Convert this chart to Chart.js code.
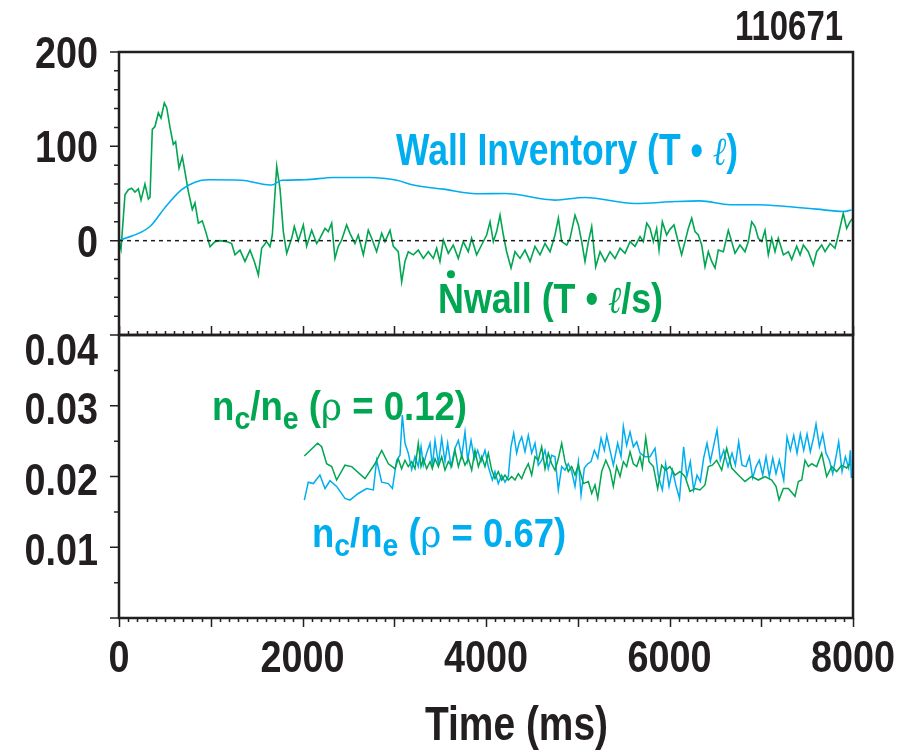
<!DOCTYPE html>
<html>
<head>
<meta charset="utf-8">
<script src="https://cdn.jsdelivr.net/npm/chart.js@4.4.1/dist/chart.umd.min.js"></script>
<style>
  html, body { margin: 0; padding: 0; background: #fff; }
</style>
</head>
<body>
<canvas id="myChart" width="919" height="750"></canvas>
<script>
// shot number shown top right
const shotLabel = "110671";

// tick labels
const xTicks = [0, 2000, 4000, 6000, 8000];
const xTickLabels = ["0", "2000", "4000", "6000", "8000"];
const topTicks = [200, 100, 0];
const topTickLabels = ["200", "100", "0"];
const botTicks = [0.04, 0.03, 0.02, 0.01];
const botTickLabels = ["0.04", "0.03", "0.02", "0.01"];

// top panel: wall inventory (T.l) and its rate Nwall (T.l/s)
const wallT = [0, 338, 500, 683, 828, 974, 1337, 1555, 1664, 1773, 2027, 2336, 2736, 3027, 3208, 3535, 3898, 4207, 4752, 5079, 5624, 6060, 6332, 6659, 6950, 7277, 7604, 7894, 7985];
const wallV = [0, 15, 35, 54, 62, 64.5, 64, 60, 59, 64, 64.5, 67, 67, 64, 59, 54.6, 49.7, 50, 43, 45.8, 39.4, 41.5, 42.2, 38, 38, 36.2, 33.4, 30.9, 32.5];

const nwallT = [0, 22, 65, 102, 138, 174, 211, 240, 283, 320, 338, 363, 392, 429, 458, 494, 520, 556, 592, 617, 654, 690, 719, 756, 799, 828, 865, 908, 945, 992,
  1047, 1101, 1174, 1228, 1264, 1319, 1373, 1428, 1475, 1519, 1555, 1610, 1646, 1671, 1719, 1755, 1791, 1828, 1882, 1911, 1955,
  2009, 2045, 2100, 2154, 2190, 2245, 2281, 2318, 2354, 2390, 2427, 2481, 2517, 2572, 2608, 2663, 2717, 2754, 2808, 2863, 2899, 2954, 2990,
  3044, 3081, 3117, 3153, 3208, 3262, 3317, 3371, 3426, 3462, 3498, 3535, 3589, 3643, 3698, 3752, 3807, 3843, 3898, 3952,
  4007, 4044, 4080, 4116, 4153, 4189, 4225, 4273, 4316, 4371, 4425, 4480, 4534, 4589, 4643, 4698, 4752, 4789, 4825, 4880, 4916, 4970,
  5007, 5043, 5079, 5116, 5152, 5196, 5243, 5297, 5352, 5406, 5461, 5515, 5570, 5624, 5679, 5715, 5752, 5788, 5824, 5860, 5886, 5922, 5969,
  6005, 6049, 6085, 6132, 6169, 6205, 6242, 6278, 6314, 6351, 6387, 6423, 6460, 6496, 6532, 6587, 6641, 6678, 6714, 6768, 6823, 6859, 6896, 6932, 6968,
  7005, 7041, 7077, 7114, 7150, 7186, 7241, 7296, 7332, 7386, 7423, 7459, 7513, 7568, 7604, 7659, 7695, 7750, 7804, 7840, 7894, 7931, 7967, 7996];
const nwallV = [0, -9, 48.6, 54, 55.5, 51.6, 55, 43, 60, 44, 46, 118, 121, 135.5, 130, 146, 141, 120, 102, 105, 77, 89, 73, 52, 33, 40, 18.5, 21, 9.6, -6.4,
  -1, 0, -1, -3, -15, -10, -22, -10, -22, -36.5, -8, -1, -6.4, 6, 78.7, 55, 9.6, -13.4, 2.5, 15, 0,
  16.7, -6, 11, -3, 2.5, 13, 9.6, 18.5, -18.8, -6, 0.7, 16.7, 7.8, -3, 6, -15, 11, 2.5, -11.7, 7.8, -1, 11, -6,
  -11.7, -43.6, -22, -11.7, -15, -10, -18.8, -11.7, -18.8, -8, -22, 0.7, -13.4, -4.6, -18.8, -1, -11.7, 2.5, -15, -4.6,
  6, 20, -1, 9.6, 27, 6, -11.7, -29, -11.7, -18.8, -10, -22, -6, -15, -3, -11.7, 6, 23.8, -1, -4.6, 2.5, 27,
  16.7, -1, -22, -1, 15, -27.6, -11.7, -22, -11.7, -18.8, -8, -13.4, -1, -6, 4.3, -1, 18.5, 13, -1, 13, -10, 20, 6,
  12, 16.7, 2.5, -15, -1, 13, 23.8, 9.6, 6, -4.6, -27.6, -11.7, -22, -29, -10, -11.7, 11, -1, -13.4, -4.6, -11.7, -1, 20, 15, 2.5,
  -1, 11, -15, 2.5, -11.7, 2.5, -15, -11.7, -20, -6, -15, -4.6, -11.7, -25.9, -11.7, -4.6, -11.7, -3, -8, 6, 29, 13, 20, 23.8];

const zeroT = [0, 8000];
const zeroV = [0, 0];

// bottom panel: carbon fraction nc/ne at rho = 0.12 and rho = 0.67
const nc12T = [2020, 2165, 2209, 2263, 2318, 2372, 2463, 2536, 2681, 2790, 2863, 2936, 3008,
  3044, 3080, 3117, 3153, 3190, 3226, 3262, 3292, 3317, 3353, 3390, 3415, 3444, 3481, 3517, 3553, 3590, 3626, 3662, 3699, 3735, 3771, 3808, 3844, 3880, 3917, 3953, 3989,
  4025, 4062, 4098, 4134, 4171, 4207, 4243, 4280, 4316, 4352, 4389, 4425, 4461, 4498, 4534, 4570, 4607, 4643, 4679, 4716, 4752, 4788, 4825, 4861, 4897, 4934, 4970, 5006,
  5061, 5116, 5152, 5188, 5218, 5261, 5306, 5352, 5388, 5424, 5461, 5497, 5533, 5570, 5606, 5643, 5679, 5704, 5741, 5777, 5824, 5871, 5915, 5958,
  6005, 6060, 6114, 6169, 6223, 6278, 6332, 6387, 6423, 6467, 6514, 6569, 6623, 6678, 6750, 6823, 6895, 6968,
  7041, 7114, 7161, 7194, 7241, 7296, 7368, 7405, 7441, 7477, 7514, 7550, 7604, 7659, 7713, 7768, 7822, 7877, 7931, 7967];
const nc12V = [0.0229, 0.0247, 0.0242, 0.0218, 0.0214, 0.0195, 0.0216, 0.0214, 0.0197, 0.0218, 0.0237, 0.0218, 0.0211,
  0.0225, 0.0211, 0.0223, 0.0214, 0.0221, 0.0211, 0.0247, 0.0214, 0.0225, 0.0211, 0.0221, 0.0211, 0.0225, 0.0214, 0.0228, 0.0209, 0.0221, 0.0214, 0.0237, 0.0214, 0.0230, 0.0216, 0.0225, 0.0209, 0.0237, 0.0214, 0.0228, 0.0214,
  0.0233, 0.0209, 0.0197, 0.0207, 0.0195, 0.0202, 0.0195, 0.0200, 0.0195, 0.0204, 0.0197, 0.0209, 0.0218, 0.0202, 0.0228, 0.0223, 0.0242, 0.0211, 0.0233, 0.0218, 0.0209, 0.0225, 0.0247, 0.0221, 0.0207, 0.0214, 0.0202, 0.0216,
  0.0190, 0.0193, 0.0176, 0.0188, 0.0169, 0.0207, 0.0223, 0.0209, 0.0186, 0.0214, 0.0200, 0.0221, 0.0214, 0.0235, 0.0218, 0.0214, 0.0228, 0.0212, 0.0255, 0.0221, 0.0214, 0.0183, 0.0216, 0.0209,
  0.0214, 0.0202, 0.0207, 0.0200, 0.0179, 0.0183, 0.0181, 0.0188, 0.0214, 0.0216, 0.0223, 0.0209, 0.0240, 0.0212, 0.0202, 0.0193, 0.0200, 0.0195,
  0.0200, 0.0195, 0.0186, 0.0167, 0.0183, 0.0183, 0.0172, 0.0193, 0.0195, 0.0223, 0.0214, 0.0218, 0.0214, 0.0233, 0.0200, 0.0214, 0.0207, 0.0216, 0.0212, 0.0218];

const nc67T = [2020, 2063, 2118, 2190, 2245, 2300, 2372, 2463, 2517, 2608, 2699, 2772, 2808, 2863, 2936, 2980, 3026, 3063, 3088, 3117, 3153,
  3190, 3226, 3262, 3292, 3317, 3353, 3390, 3415, 3444, 3481, 3517, 3553, 3582, 3619, 3662, 3699, 3735, 3771, 3800, 3837, 3873, 3909, 3946, 3989,
  4025, 4069, 4098, 4134, 4171, 4207, 4243, 4272, 4302, 4334, 4360, 4389, 4425, 4461, 4498, 4534, 4570, 4607, 4643, 4679, 4716, 4752, 4788, 4825, 4861, 4897, 4934, 4970,
  5007, 5036, 5072, 5109, 5145, 5181, 5218, 5254, 5290, 5316, 5352, 5388, 5435, 5472, 5497, 5533, 5570, 5606, 5643, 5679, 5733, 5788, 5842, 5879, 5922, 5958, 5995,
  6032, 6069, 6109, 6154, 6190, 6227, 6263, 6300, 6336, 6372, 6409, 6445, 6482, 6518, 6554, 6591, 6638, 6681, 6718, 6754, 6790, 6834, 6870, 6907, 6943, 6979,
  7016, 7052, 7088, 7125, 7161, 7197, 7245, 7281, 7317, 7354, 7390, 7426, 7463, 7499, 7535, 7572, 7597, 7634, 7670, 7706, 7743, 7779, 7815, 7844, 7881, 7917, 7953, 7971, 7982];
const nc67V = [0.01665, 0.0192, 0.0190, 0.0202, 0.0183, 0.0194, 0.0186, 0.0169, 0.01665, 0.0176, 0.0183, 0.0181, 0.0223, 0.0192, 0.0190, 0.0183, 0.0223, 0.0230, 0.0287, 0.0247, 0.0233,
  0.0210, 0.0228, 0.0214, 0.0242, 0.0216, 0.0233, 0.0247, 0.0214, 0.0251, 0.0218, 0.0254, 0.0221, 0.0247, 0.0214, 0.0240, 0.0251, 0.0228, 0.0263, 0.0223, 0.0251, 0.0225, 0.0237, 0.0221, 0.0237,
  0.0214, 0.0195, 0.0207, 0.0190, 0.0202, 0.0192, 0.0200, 0.0242, 0.0261, 0.0233, 0.0247, 0.0256, 0.0235, 0.0258, 0.0233, 0.0247, 0.0216, 0.0223, 0.0237, 0.0211, 0.0230, 0.0228, 0.0181, 0.0214, 0.0209, 0.0218, 0.0207, 0.0186,
  0.0221, 0.0174, 0.0212, 0.0218, 0.0221, 0.0237, 0.0226, 0.0254, 0.0237, 0.0258, 0.0237, 0.0216, 0.0247, 0.0228, 0.0271, 0.0244, 0.0263, 0.0242, 0.0249, 0.0233, 0.0228, 0.0228, 0.0240, 0.0200, 0.0181, 0.0218, 0.0186,
  0.0209, 0.0188, 0.0169, 0.0242, 0.0200, 0.0221, 0.0181, 0.0202, 0.0193, 0.0226, 0.0247, 0.0221, 0.0244, 0.0266, 0.0223, 0.0237, 0.0214, 0.0233, 0.0216, 0.0249, 0.0216, 0.0214, 0.0228, 0.0198, 0.0214, 0.0223,
  0.0202, 0.0228, 0.0200, 0.0226, 0.0204, 0.0223, 0.0195, 0.0256, 0.0237, 0.0258, 0.0233, 0.0260, 0.0237, 0.0260, 0.0235, 0.0256, 0.0274, 0.0242, 0.0260, 0.0233, 0.0223, 0.0204, 0.0228, 0.0249, 0.0207, 0.0228, 0.0212, 0.0237, 0.0198];

// no narrow sans installed, so the condensed look is done by squeezing Liberation Sans
const FONT = "'Liberation Sans', Arial, sans-serif";
const INK = "#231f20";
const BLUE = "#00aeef";
const GREEN = "#00a651";
const SQUEEZE = 0.84;

const pts = (xs, ys) => xs.map((x, i) => ({ x: x, y: ys[i] }));
const bold = (size) => "bold " + size + "px " + FONT;

// draw text squeezed sideways; align: 0 left, 0.5 centre, 1 right
function squeezed(c, str, x, y, font, color, align) {
  c.font = font;
  c.fillStyle = color;
  const w = c.measureText(str).width * SQUEEZE;
  c.save();
  c.translate(x - w * align, y);
  c.scale(SQUEEZE, 1);
  c.fillText(str, 0, 0);
  c.restore();
}

// a run of pieces in mixed fonts, squeezed so the whole thing fits width
function drawRuns(c, x, y, runs, width) {
  let total = 0;
  runs.forEach(r => { c.font = r.font; total += c.measureText(r.text).width; });
  const sx = width / total;
  c.save();
  c.translate(x, y);
  c.scale(sx, 1);
  let cx = 0;
  runs.forEach(r => {
    c.font = r.font;
    c.fillStyle = r.color;
    c.fillText(r.text, cx, r.dy || 0);
    cx += c.measureText(r.text).width;
  });
  c.restore();
  return sx;
}

// box round each panel plus the little tick marks
const framePlugin = {
  id: "frame",
  afterDatasetsDraw(chart) {
    const c = chart.ctx;
    const x = chart.scales.x, yt = chart.scales.yTop, yb = chart.scales.yBot;
    const L = x.left, R = x.right;
    c.save();
    c.strokeStyle = INK;
    c.lineWidth = 1.5;
    c.beginPath();
    for (let t = 0; t <= 8000; t += 100) {
      const px = Math.round(x.getPixelForValue(t)) + 0.5;
      const len = t % 1000 === 0 ? 9 : 4;
      c.moveTo(px, yt.bottom); c.lineTo(px, yt.bottom - len);
      c.moveTo(px, yb.bottom); c.lineTo(px, yb.bottom + len);
    }
    for (let v = -100; v <= 200; v += 20) {
      const py = yt.getPixelForValue(v);
      c.moveTo(L, py); c.lineTo(L - (v % 100 === 0 ? 9 : 5), py);
    }
    for (let i = 0; i <= 8; i++) {
      const py = yb.getPixelForValue(i * 0.005);
      c.moveTo(L, py); c.lineTo(L - (i % 2 === 0 ? 9 : 5), py);
    }
    c.stroke();
    c.lineWidth = 2.5;
    [yt, yb].forEach(s => c.strokeRect(L, s.top, R - L, s.bottom - s.top));
    c.restore();
  }
};

const textPlugin = {
  id: "labels",
  afterDraw(chart) {
    const c = chart.ctx;
    const x = chart.scales.x, yt = chart.scales.yTop, yb = chart.scales.yBot;
    c.save();
    c.textBaseline = "alphabetic";
    c.textAlign = "left";

    // tick labels, placed off the scales
    xTicks.forEach((t, i) => squeezed(c, xTickLabels[i], x.getPixelForValue(t), yb.bottom + 54, bold(45), INK, 0.5));
    topTicks.forEach((v, i) => squeezed(c, topTickLabels[i], x.left - 21, yt.getPixelForValue(v) + 16, bold(45), INK, 1));
    botTicks.forEach((v, i) => squeezed(c, botTickLabels[i], x.left - 21, yb.getPixelForValue(v) + (i === 0 ? 30 : 18), bold(45), INK, 1));

    drawRuns(c, 425, 740, [{ text: "Time (ms)", font: bold(48), color: INK }], 183);
    drawRuns(c, 735, 40, [{ text: shotLabel, font: bold(42), color: INK }], 108);

    drawRuns(c, x.getPixelForValue(3019), yt.getPixelForValue(80.5), [
      { text: "Wall Inventory (T \u2022 ", font: bold(44), color: BLUE },
      { text: "\u2113", font: "italic 40px 'DejaVu Serif'", color: BLUE },
      { text: ")", font: bold(44), color: BLUE }
    ], 342);

    const nx = x.getPixelForValue(3477), ny = yt.getPixelForValue(-77);
    c.font = bold(43);
    const nw = c.measureText("N").width;
    const sx = drawRuns(c, nx, ny, [
      { text: "Nwall (T \u2022 ", font: bold(43), color: GREEN },
      { text: "\u2113", font: "italic 38px 'DejaVu Serif'", color: GREEN },
      { text: "/s)", font: bold(43), color: GREEN }
    ], 225);
    c.fillStyle = GREEN;
    c.beginPath();
    c.arc(nx + nw * sx / 2, ny - 39, 4, 0, Math.PI * 2);
    c.fill();

    const ncRuns = (col, rho) => [
      { text: "n", font: bold(41), color: col },
      { text: "c", font: bold(32), color: col, dy: 9 },
      { text: "/n", font: bold(41), color: col },
      { text: "e", font: bold(32), color: col, dy: 9 },
      { text: " (", font: bold(41), color: col },
      { text: "\u03c1", font: "40px 'DejaVu Serif'", color: col },
      { text: " = " + rho + ")", font: bold(41), color: col }
    ];
    drawRuns(c, x.getPixelForValue(1014), yb.getPixelForValue(0.02796), ncRuns(GREEN, "0.12"), 255);
    drawRuns(c, x.getPixelForValue(2104), yb.getPixelForValue(0.0100), ncRuns(BLUE, "0.67"), 254);
    c.restore();
  }
};

const ctx = document.getElementById("myChart");
const mychart = new Chart(ctx, {
  type: "line",
  data: {
    datasets: [
      { label: "zero", data: pts(zeroT, zeroV), yAxisID: "yTop", borderColor: INK, borderWidth: 1.5, borderDash: [4, 4], pointRadius: 0 },
      { label: "Wall Inventory", data: pts(wallT, wallV), yAxisID: "yTop", borderColor: BLUE, borderWidth: 1.6, pointRadius: 0, cubicInterpolationMode: "monotone" },
      { label: "Nwall", data: pts(nwallT, nwallV), yAxisID: "yTop", borderColor: GREEN, borderWidth: 1.6, pointRadius: 0 },
      { label: "nc/ne rho=0.12", data: pts(nc12T, nc12V), yAxisID: "yBot", borderColor: GREEN, borderWidth: 1.5, pointRadius: 0 },
      { label: "nc/ne rho=0.67", data: pts(nc67T, nc67V), yAxisID: "yBot", borderColor: BLUE, borderWidth: 1.5, pointRadius: 0 }
    ]
  },
  options: {
    responsive: false,
    animation: false,
    layout: { padding: { left: 0, right: 66, top: 52, bottom: 0 } },
    plugins: { legend: { display: false }, tooltip: { enabled: false } },
    scales: {
      x: {
        type: "linear", min: 0, max: 8000,
        grid: { display: false, drawTicks: false },
        border: { display: false },
        ticks: { display: false, stepSize: 2000 },
        afterFit: (s) => { s.height = 132; }
      },
      yBot: {
        type: "linear", position: "left", stack: "panels", stackWeight: 1,
        min: 0, max: 0.04,
        grid: { display: false, drawTicks: false },
        border: { display: false },
        ticks: { display: false, stepSize: 0.01 },
        afterFit: (s) => { s.width = 119; }
      },
      yTop: {
        type: "linear", position: "left", stack: "panels", stackWeight: 1,
        min: -100, max: 200,
        grid: { display: false, drawTicks: false },
        border: { display: false },
        ticks: { display: false, stepSize: 100 },
        afterFit: (s) => { s.width = 119; }
      }
    }
  },
  plugins: [framePlugin, textPlugin]
});
</script>
</body>
</html>
